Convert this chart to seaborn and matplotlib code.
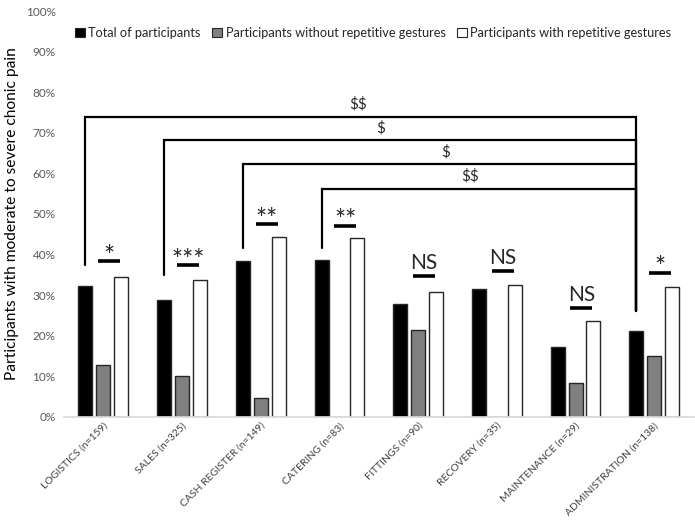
import matplotlib
matplotlib.use("Agg")
import matplotlib.pyplot as plt
from matplotlib.patches import Patch
from matplotlib.ticker import PercentFormatter
import seaborn as sns
import pandas as pd

categories = ["LOGISTICS (n=159)", "SALES (n=325)", "CASH REGISTER (n=149)", "CATERING (n=83)",
              "FITTINGS (n=90)", "RECOVERY (n=35)", "MAINTENANCE (n=29)", "ADMINISTRATION (n=138)"]
series_names = ["Total of participants", "Participants without repetitive gestures",
                "Participants with repetitive gestures"]
total = [0.322, 0.287, 0.383, 0.387, 0.279, 0.314, 0.173, 0.212]
without_rep = [0.127, 0.101, 0.046, 0.0, 0.215, 0.0, 0.084, 0.149]
with_rep = [0.344, 0.338, 0.443, 0.440, 0.308, 0.326, 0.237, 0.320]

# significance between groups within category
sig_labels = ["*", "***", "**", "**", "NS", "NS", "NS", "*"]
sig_heights = [0.383, 0.373, 0.474, 0.470, 0.346, 0.359, 0.267, 0.355]

# brackets comparing each category with ADMINISTRATION
bracket_from = [0, 1, 2, 3]
bracket_top = [0.740, 0.681, 0.623, 0.562]
bracket_left_bottom = [0.375, 0.350, 0.417, 0.417]
bracket_right_bottom = 0.260
bracket_labels = ["$$", "$", "$", "$$"]
bracket_label_x = [3.24, 3.52, 4.35, 4.66]

df = pd.DataFrame({
    "category": categories * 3,
    "series": [series_names[0]] * 8 + [series_names[1]] * 8 + [series_names[2]] * 8,
    "value": total + without_rep + with_rep,
})

sns.set_theme(style="white")
plt.rcParams["font.family"] = ["Lato", "DejaVu Sans"]

fig = plt.figure(figsize=(6.95, 5.25), dpi=100)
ax = fig.add_axes([0.092, 0.206, 0.906, 0.773])

colors = ["#000000", "#808080", "#ffffff"]
sns.barplot(data=df, x="category", y="value", hue="series", palette=colors,
            width=0.68, gap=0.22, edgecolor="#262626", linewidth=1.0,
            legend=False, ax=ax)

ax.set_ylim(0, 1.0)
ax.set_xlim(-0.5, 7.5)
ax.yaxis.set_major_formatter(PercentFormatter(1.0, decimals=0))
ax.set_yticks([i / 10 for i in range(11)])
ax.tick_params(axis="y", labelsize=8.5, labelcolor="#595959", length=0, pad=6)
ax.tick_params(axis="x", labelsize=7.5, labelcolor="#404040", length=0, pad=3)
plt.setp(ax.get_xticklabels(), rotation=45, ha="right", rotation_mode="anchor")
for s in ["top", "right", "left"]:
    ax.spines[s].set_visible(False)
ax.spines["bottom"].set_color("#d9d9d9")
ax.set_xlabel("")
ax.set_ylabel("Participants with moderate to severe chonic pain", fontsize=11.2, color="#000000")
ax.yaxis.set_label_coords(-0.072, 0.5)

off = 0.68 / 3
# brackets
xr = 7 - off
for i, top, lb, lab, lx in zip(bracket_from, bracket_top, bracket_left_bottom, bracket_labels, bracket_label_x):
    xl = i - off
    ax.plot([xl, xl, xr, xr], [lb, top, top, bracket_right_bottom], color="black", lw=1.6,
            solid_joinstyle="miter", clip_on=False)
    ax.text(lx, top + 0.012, lab, ha="center", va="bottom", fontsize=11, parse_math=False)

# significance markers
for i, (lab, h) in enumerate(zip(sig_labels, sig_heights)):
    cx = i + 0.075
    ax.plot([cx - 0.14, cx + 0.14], [h, h], color="black", lw=2.6, solid_capstyle="butt")
    if lab.startswith("*"):
        ax.text(cx, h - 0.02, lab, ha="center", va="bottom", fontsize=19)
    else:
        ax.text(cx, h + 0.008, lab, ha="center", va="bottom", fontsize=15)

handles = [Patch(facecolor=c, edgecolor="#262626", linewidth=0.8) for c in colors]
fig.legend(handles, series_names, loc="center", bbox_to_anchor=(0.537, 0.937), ncol=3,
           frameon=False, fontsize=9.2, handlelength=0.75, handleheight=0.75,
           handletextpad=0.3, columnspacing=0.9)

fig.savefig("out.png", dpi=100)
